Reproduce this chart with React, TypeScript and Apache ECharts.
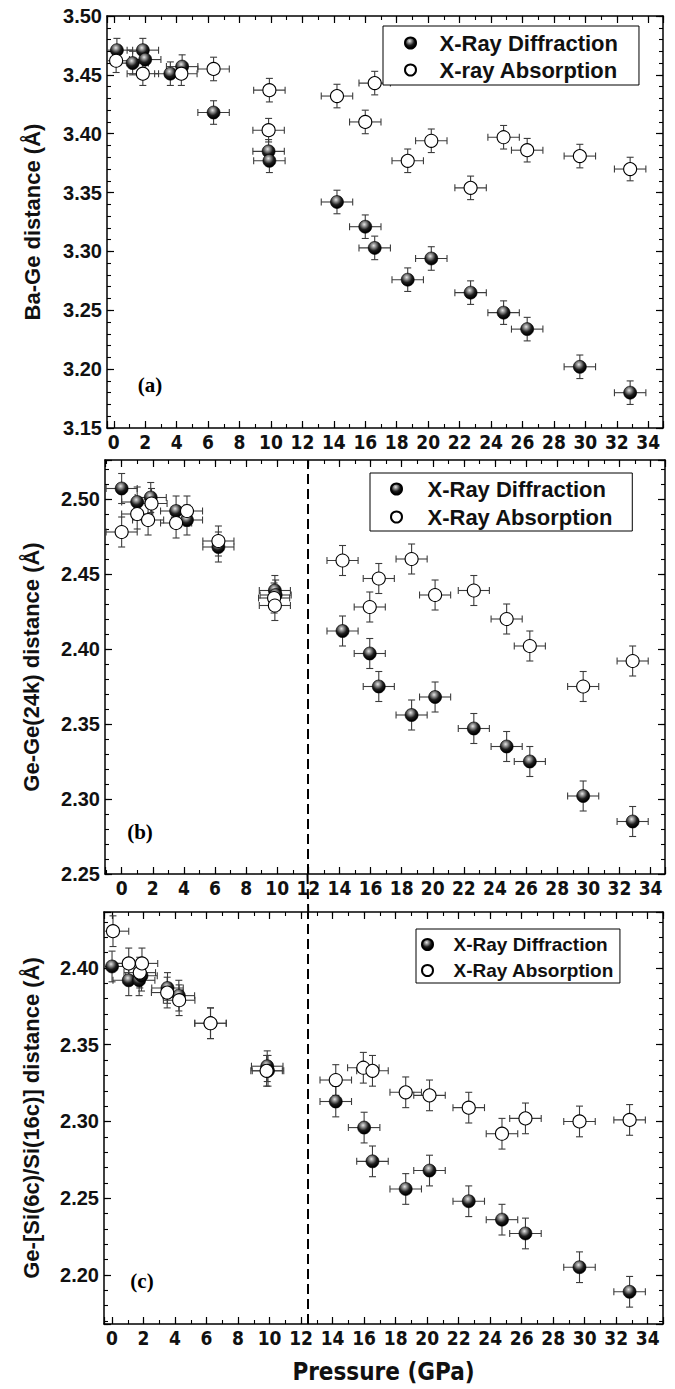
import React, { useEffect, useRef } from 'react';
import * as echarts from 'echarts';

// ---------- data ----------
const X_ERR = 1.0; // GPa
const Y_ERR = 0.01; // Å

// Panel (a) Ba-Ge
const A_XRD_P = [0.2, 1.2, 1.85, 2.0, 3.6, 4.35, 6.35, 9.85, 9.9, 14.2, 16.0, 16.6, 18.7, 20.2, 22.7, 24.8, 26.3, 29.65, 32.85];
const A_XRD_V = [3.471, 3.46, 3.471, 3.463, 3.451, 3.457, 3.418, 3.385, 3.377, 3.342, 3.321, 3.303, 3.276, 3.294, 3.265, 3.248, 3.234, 3.202, 3.18];
const A_XAS_P = [0.15, 1.85, 4.3, 6.35, 9.9, 9.85, 14.2, 16.6, 16.0, 18.7, 20.2, 22.7, 24.8, 26.3, 29.65, 32.85];
const A_XAS_V = [3.462, 3.451, 3.451, 3.455, 3.437, 3.403, 3.432, 3.443, 3.41, 3.377, 3.394, 3.354, 3.397, 3.386, 3.381, 3.37];

// Panel (b) Ge-Ge(24k)
const B_XRD_P = [0.0, 1.0, 1.87, 3.5, 4.2, 6.22, 9.85, 9.9, 14.2, 15.95, 16.53, 18.64, 20.15, 22.64, 24.75, 26.24, 29.67, 32.85];
const B_XRD_V = [2.507, 2.498, 2.501, 2.492, 2.486, 2.468, 2.439, 2.436, 2.412, 2.397, 2.375, 2.356, 2.368, 2.347, 2.335, 2.325, 2.302, 2.285];
const B_XAS_P = [0.0, 1.0, 1.7, 1.92, 3.5, 4.2, 6.22, 9.8, 9.85, 14.2, 15.95, 16.53, 18.64, 20.15, 22.64, 24.75, 26.24, 29.67, 32.85];
const B_XAS_V = [2.478, 2.49, 2.486, 2.497, 2.484, 2.492, 2.472, 2.434, 2.429, 2.459, 2.428, 2.447, 2.46, 2.436, 2.439, 2.42, 2.402, 2.375, 2.392];

// Panel (c) Ge-[Si(6c)/Si(16c)]
const C_XRD_P = [0.0, 1.06, 1.72, 1.87, 3.52, 4.24, 6.25, 9.85, 9.9, 14.2, 16.0, 16.53, 18.64, 20.15, 22.64, 24.75, 26.24, 29.67, 32.85];
const C_XRD_V = [2.401, 2.392, 2.392, 2.395, 2.387, 2.382, 2.364, 2.336, 2.333, 2.313, 2.296, 2.274, 2.256, 2.268, 2.248, 2.236, 2.227, 2.205, 2.189];
const C_XAS_P = [0.06, 1.06, 1.76, 1.9, 3.5, 4.26, 6.25, 9.81, 14.2, 15.95, 16.53, 18.64, 20.15, 22.64, 24.75, 26.24, 29.67, 32.85];
const C_XAS_V = [2.424, 2.403, 2.397, 2.403, 2.384, 2.379, 2.364, 2.333, 2.327, 2.335, 2.333, 2.319, 2.317, 2.309, 2.292, 2.302, 2.3, 2.301];

const Y_NAMES = ['Ba-Ge distance (Å)', 'Ge-Ge(24k) distance (Å)', 'Ge-[Si(6c)/Si(16c)] distance (Å)'];
const PANEL_TAGS = ['(a)', '(b)', '(c)'];
const XRD_NAME = 'X-Ray Diffraction';
const XAS_NAMES = ['X-ray Absorption', 'X-Ray Absorption', 'X-Ray Absorption'];
const X_NAME = 'Pressure (GPa)';
const DASH_B = 11.95; // GPa, transition line in (b)
const DASH_C = 12.45; // GPa, transition line in (c)

// ---------- layout ----------
const SANS = "'Liberation Sans', Arial, Helvetica, sans-serif";
const NARROW = "'Liberation Sans Narrow', 'DejaVu Sans Condensed', 'Liberation Sans', sans-serif";
const SERIF = "'Liberation Serif', 'Times New Roman', serif";
const INK = '#111';

const PANELS = [
  { grid: { left: 107, top: 16, width: 556, height: 412 }, xmin: -0.43, xmax: 34.94, ymin: 3.15, ymax: 3.5, nameGap: 64,
    tag: { x: 150, y: 385 } },
  { grid: { left: 105, top: 460, width: 560, height: 414 }, xmin: -1.07, xmax: 34.93, ymin: 2.25, ymax: 2.526, nameGap: 63,
    tag: { x: 140, y: 832 } },
  { grid: { left: 104, top: 912, width: 559, height: 412 }, xmin: -0.51, xmax: 34.97, ymin: 2.168, ymax: 2.4365, nameGap: 62,
    tag: { x: 142, y: 1281 } },
];

const LEGENDS = [
  { left: 383, top: 26, padding: [6, 21, 4, 21], itemWidth: 48, itemGap: 5, fontSize: 22 },
  { left: 370, top: 473, padding: [5, 19, 3, 20], itemWidth: 52, itemGap: 6, fontSize: 22 },
  { left: 416, top: 929, padding: [6, 6, 3, 5], itemWidth: 42, itemGap: 7, fontSize: 19 },
];

const sphere = () =>
  new echarts.graphic.RadialGradient(0.42, 0.32, 0.62, [
    { offset: 0, color: '#e6e6e6' },
    { offset: 0.3, color: '#8a8a8a' },
    { offset: 0.65, color: '#1e1e1e' },
    { offset: 1, color: '#000' },
  ]);

function isMult(v: number, step: number) {
  const k = v / step;
  return Math.abs(k - Math.round(k)) < 1e-6;
}

function buildOption() {
  const grid: any[] = [];
  const xAxis: any[] = [];
  const yAxis: any[] = [];
  const series: any[] = [];
  const legend: any[] = [];
  const graphic: any[] = [];

  PANELS.forEach((pn, gi) => {
    grid.push({ ...pn.grid, containLabel: false });
    const lineStyle = { color: '#000', width: 1.5 };
    const tickMajor = { show: true, inside: true, length: 7, lineStyle: { color: '#000', width: 1.2 } };
    const tickMinor = { show: true, inside: true, length: 4, lineStyle: { color: '#000', width: 1.1 } };
    const xBase = { type: 'value', gridIndex: gi, min: pn.xmin, max: pn.xmax, splitLine: { show: false } };
    xAxis.push({
      ...xBase, position: 'bottom', minInterval: 2, maxInterval: 2, splitNumber: 18,
      axisLine: { show: true, onZero: false, lineStyle }, axisTick: tickMajor,
      axisLabel: {
        show: true, margin: 4, color: INK, fontFamily: NARROW, fontWeight: 'bold', fontSize: 19,
        formatter: (v: number) => (isMult(v, 2) ? String(Math.round(v)) : ''),
      },
      name: gi === 2 ? X_NAME : '', nameLocation: 'middle', nameGap: 36,
      nameTextStyle: { color: INK, fontFamily: NARROW, fontWeight: 'bold', fontSize: 24 },
    });
    xAxis.push({ ...xBase, position: 'bottom', minInterval: 1, maxInterval: 1, splitNumber: 35,
      axisLine: { show: false, onZero: false }, axisTick: tickMinor, axisLabel: { show: false } });
    xAxis.push({ ...xBase, position: 'top', minInterval: 2, maxInterval: 2, splitNumber: 18,
      axisLine: { show: true, onZero: false, lineStyle }, axisTick: tickMajor, axisLabel: { show: false } });
    xAxis.push({ ...xBase, position: 'top', minInterval: 1, maxInterval: 1, splitNumber: 35,
      axisLine: { show: false, onZero: false }, axisTick: tickMinor, axisLabel: { show: false } });

    const yBase = { type: 'value', gridIndex: gi, min: pn.ymin, max: pn.ymax, splitLine: { show: false } };
    const span = pn.ymax - pn.ymin;
    yAxis.push({
      ...yBase, position: 'left', minInterval: 0.05, maxInterval: 0.05, splitNumber: Math.round(span / 0.05),
      axisLine: { show: true, onZero: false, lineStyle }, axisTick: tickMajor,
      axisLabel: {
        show: true, margin: 5, color: INK, fontFamily: SANS, fontWeight: 'bold', fontSize: 20,
        formatter: (v: number) => (isMult(v, 0.05) ? v.toFixed(2) : ''),
      },
      name: Y_NAMES[gi], nameLocation: 'middle', nameGap: pn.nameGap,
      nameTextStyle: { color: INK, fontFamily: SANS, fontWeight: 'bold', fontSize: 22 },
    });
    yAxis.push({ ...yBase, position: 'left', minInterval: 0.01, maxInterval: 0.01, splitNumber: Math.round(span / 0.01),
      axisLine: { show: false, onZero: false }, axisTick: tickMinor, axisLabel: { show: false } });
    yAxis.push({ ...yBase, position: 'right', minInterval: 0.05, maxInterval: 0.05, splitNumber: Math.round(span / 0.05),
      axisLine: { show: true, onZero: false, lineStyle }, axisTick: tickMajor, axisLabel: { show: false } });
    yAxis.push({ ...yBase, position: 'right', minInterval: 0.01, maxInterval: 0.01, splitNumber: Math.round(span / 0.01),
      axisLine: { show: false, onZero: false }, axisTick: tickMinor, axisLabel: { show: false } });

    graphic.push({
      type: 'text', id: 'tag' + gi, x: pn.tag.x, y: pn.tag.y, z: 10,
      style: { text: PANEL_TAGS[gi], fontFamily: SERIF, fontWeight: 'bold', fontSize: 21, fill: '#000', align: 'center', verticalAlign: 'middle' },
    });

    const lg = LEGENDS[gi];
    legend.push({
      data: [XRD_NAME, XAS_NAMES[gi]], orient: 'vertical', left: lg.left, top: lg.top, padding: lg.padding,
      itemWidth: lg.itemWidth, itemHeight: 11, itemGap: lg.itemGap, icon: 'circle', selectedMode: false,
      borderColor: '#000', borderWidth: 1, backgroundColor: '#fff', borderRadius: 0,
      textStyle: { color: INK, fontFamily: SANS, fontWeight: 'bold', fontSize: lg.fontSize },
    });
  });

  const sets = [
    [A_XRD_P, A_XRD_V, A_XAS_P, A_XAS_V],
    [B_XRD_P, B_XRD_V, B_XAS_P, B_XAS_V],
    [C_XRD_P, C_XRD_V, C_XAS_P, C_XAS_V],
  ];

  const errSeries = (name: string, gi: number, P: number[], V: number[]) => ({
    type: 'custom', name, xAxisIndex: gi * 4, yAxisIndex: gi * 4, z: 2, silent: true, clip: true,
    data: P.map((p, i) => [p, V[i], X_ERR, Y_ERR]),
    encode: { x: 0, y: 1 },
    renderItem: (_params: any, api: any) => {
      const p = api.value(0), v = api.value(1), ex = api.value(2), ey = api.value(3);
      const L = api.coord([p - ex, v]);
      const R = api.coord([p + ex, v]);
      const T = api.coord([p, v + ey]);
      const B = api.coord([p, v - ey]);
      const cap = 3.5;
      const st = { stroke: '#3c3c3c', lineWidth: 1.1, fill: 'none' };
      const ln = (x1: number, y1: number, x2: number, y2: number) => ({ type: 'line', shape: { x1, y1, x2, y2 }, style: st });
      return {
        type: 'group',
        children: [
          ln(L[0], L[1], R[0], R[1]),
          ln(T[0], T[1], B[0], B[1]),
          ln(L[0], L[1] - cap, L[0], L[1] + cap),
          ln(R[0], R[1] - cap, R[0], R[1] + cap),
          ln(T[0] - cap, T[1], T[0] + cap, T[1]),
          ln(B[0] - cap, B[1], B[0] + cap, B[1]),
        ],
      };
    },
  });

  sets.forEach(([xp, xv, ap, av], gi) => {
    series.push(errSeries('xrd-err-' + gi, gi, xp, xv));
    series.push(errSeries('xas-err-' + gi, gi, ap, av));
    const xrd: any = {
      type: 'scatter', name: XRD_NAME, xAxisIndex: gi * 4, yAxisIndex: gi * 4, z: 3,
      symbol: 'circle', symbolSize: 13,
      itemStyle: { color: sphere(), borderColor: '#000', borderWidth: 0.6, opacity: 1 },
      data: xp.map((p, i) => [p, xv[i]]),
    };
    if (gi === 1 || gi === 2) {
      xrd.markLine = {
        silent: true, symbol: 'none', label: { show: false }, animation: false,
        lineStyle: { color: '#000', width: 2, type: [10, 5] },
        data: [{ xAxis: gi === 1 ? DASH_B : DASH_C }],
      };
    }
    series.push(xrd);
    series.push({
      type: 'scatter', name: XAS_NAMES[gi], xAxisIndex: gi * 4, yAxisIndex: gi * 4, z: 3,
      symbol: 'circle', symbolSize: 13,
      itemStyle: { color: '#fff', borderColor: '#000', borderWidth: 1.1, opacity: 1 },
      data: ap.map((p, i) => [p, av[i]]),
    });
  });

  return {
    animation: false,
    backgroundColor: '#fff',
    grid, xAxis, yAxis, series, legend, graphic,
  };
}

export default function App() {
  const ref = useRef<HTMLDivElement>(null);
  useEffect(() => {
    document.body.style.margin = '0';
    const chart = echarts.init(ref.current as HTMLDivElement, null, { renderer: 'svg' });
    chart.setOption(buildOption() as any);
    const xb = chart.convertToPixel({ xAxisIndex: 4 } as any, DASH_B) as unknown as number;
    const xc = chart.convertToPixel({ xAxisIndex: 8 } as any, DASH_C) as unknown as number;
    const y1 = chart.convertToPixel({ yAxisIndex: 4 } as any, PANELS[1].ymin) as unknown as number;
    const y2 = chart.convertToPixel({ yAxisIndex: 8 } as any, PANELS[2].ymax) as unknown as number;
    if ([xb, xc, y1, y2].every((n) => typeof n === 'number' && isFinite(n))) {
      chart.setOption({
        graphic: [
          {
            id: 'gapDash', type: 'line', z: 5, silent: true,
            shape: { x1: xb, y1: y1, x2: xc, y2: y2 },
            style: { stroke: '#000', lineWidth: 2, lineDash: [10, 5] },
          },
        ],
      } as any);
    }
    return () => chart.dispose();
  }, []);
  return <div ref={ref} style={{ width: 675, height: 1389 }} />;
}
